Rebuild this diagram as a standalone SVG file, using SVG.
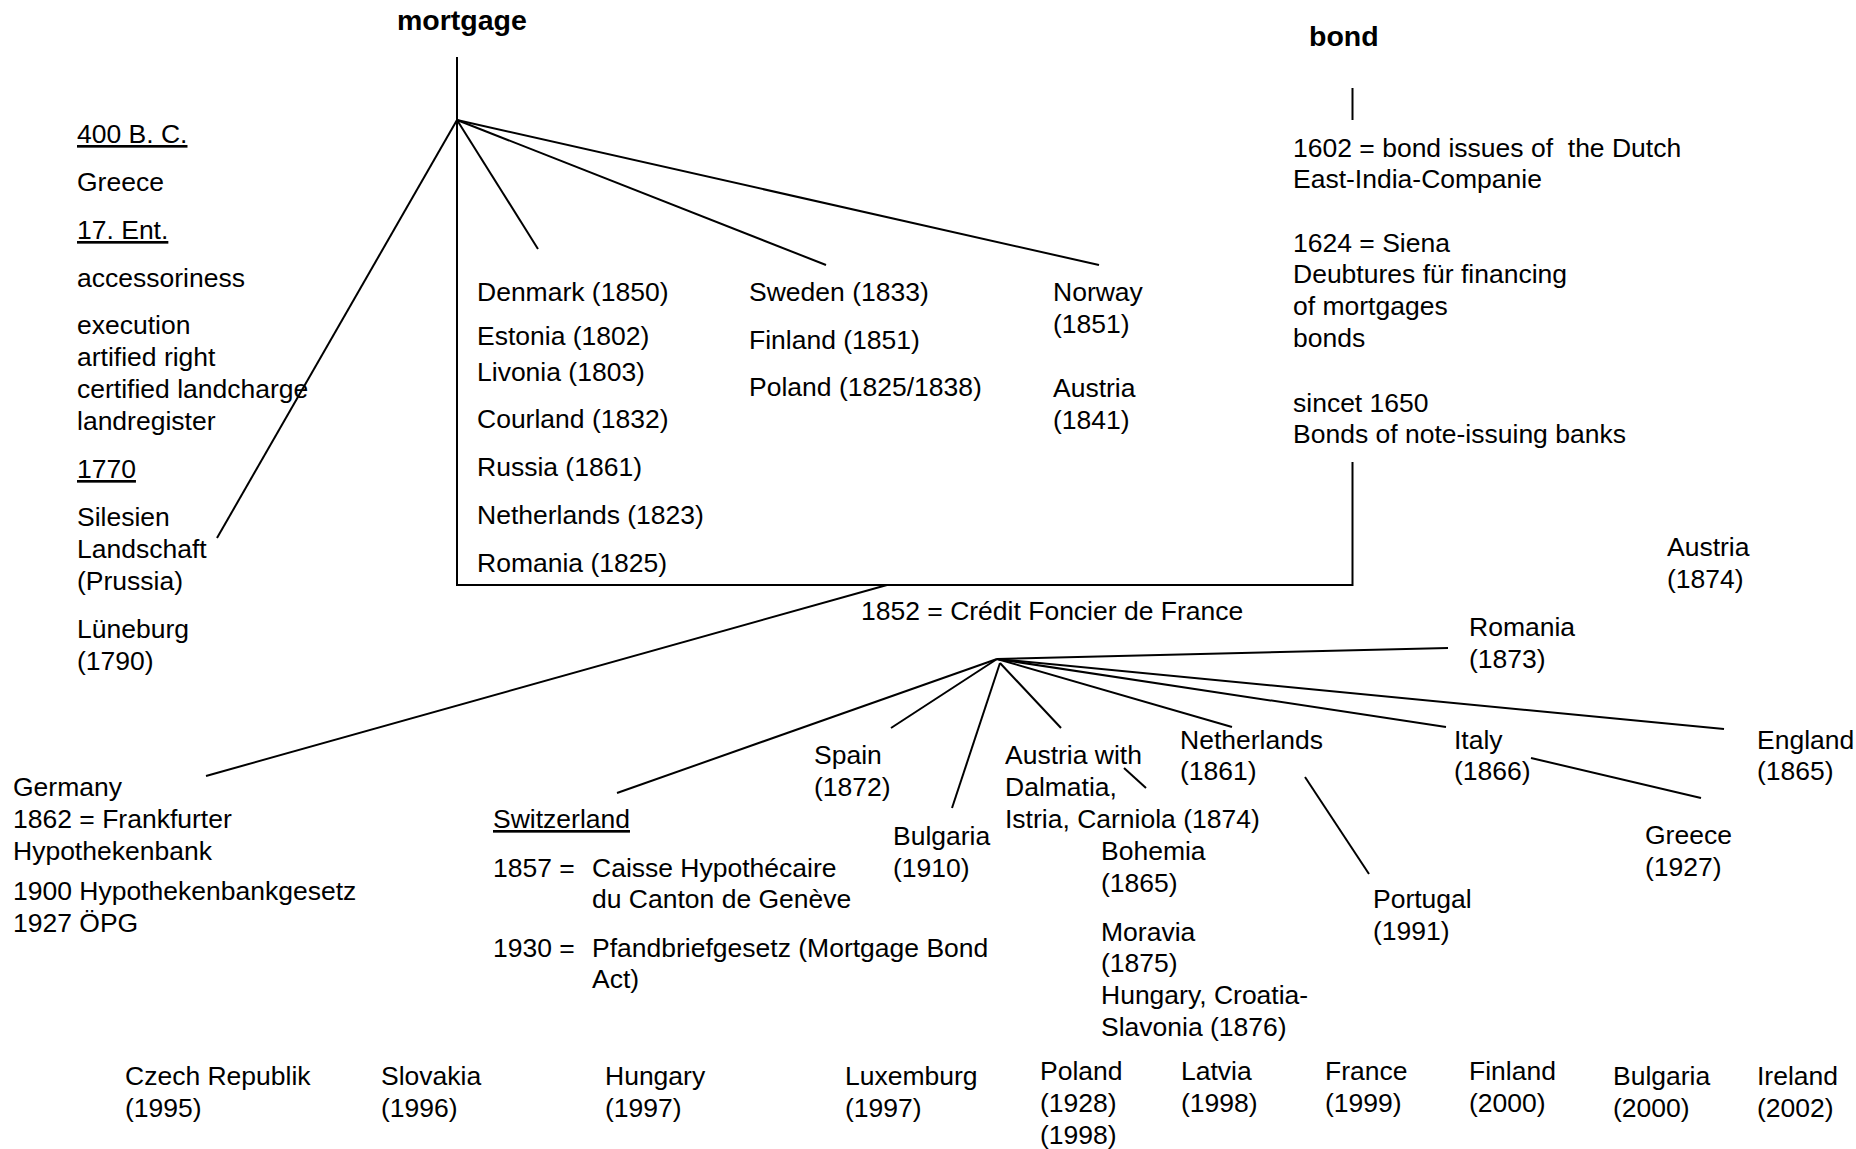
<svg xmlns="http://www.w3.org/2000/svg" width="1856" height="1149" viewBox="0 0 1856 1149">
<style>
text{font-family:"Liberation Sans",Arial,sans-serif;font-size:26.5px;fill:#000}
.t{font-weight:bold;font-size:28.5px}
.u{text-decoration:underline}
.c line,.c path{stroke:#000;stroke-width:2;fill:none}
</style>
<rect width="1856" height="1149" fill="#fff"/>
<g class="c" id="connectors">
<path d="M457,57 V585 H1352.5 V462"/>
<line x1="1352.5" y1="88" x2="1352.5" y2="120"/>
<line x1="457" y1="120" x2="217" y2="538"/>
<line x1="457" y1="120" x2="538" y2="249"/>
<line x1="457" y1="120" x2="826" y2="265"/>
<line x1="457" y1="120" x2="1099" y2="265"/>
<line x1="887" y1="585" x2="206" y2="776"/>
<line x1="997" y1="659" x2="617" y2="793"/>
<line x1="997" y1="659" x2="891" y2="728"/>
<line x1="1000" y1="663" x2="952" y2="808"/>
<line x1="1000" y1="663" x2="1061" y2="728"/>
<line x1="997" y1="659" x2="1232" y2="727"/>
<line x1="997" y1="659" x2="1448" y2="648"/>
<line x1="997" y1="659" x2="1446" y2="727"/>
<line x1="997" y1="659" x2="1724" y2="729"/>
<line x1="1124" y1="768" x2="1146" y2="788"/>
<line x1="1305" y1="777" x2="1369" y2="874"/>
<line x1="1531" y1="758" x2="1701" y2="798"/>
</g>
<g id="mortgage"><text class="t" x="397" y="30">mortgage</text></g>
<g id="bond"><text class="t" x="1309" y="46">bond</text></g>
<g id="history">
<text class="u" x="77" y="143">400 B. C.</text>
<text x="77" y="191">Greece</text>
<text class="u" x="77" y="239">17. Ent.</text>
<text x="77" y="287">accessoriness</text>
<text x="77" y="334">execution</text>
<text x="77" y="366">artified right</text>
<text x="77" y="398">certified landcharge</text>
<text x="77" y="430">landregister</text>
<text class="u" x="77" y="478">1770</text>
<text x="77" y="526">Silesien</text>
<text x="77" y="558">Landschaft</text>
<text x="77" y="590">(Prussia)</text>
<text x="77" y="638">Lüneburg</text>
<text x="77" y="670">(1790)</text>
</g>
<g id="baltic">
<text x="477" y="301">Denmark (1850)</text>
<text x="477" y="345">Estonia (1802)</text>
<text x="477" y="381">Livonia (1803)</text>
<text x="477" y="428">Courland (1832)</text>
<text x="477" y="476">Russia (1861)</text>
<text x="477" y="524">Netherlands (1823)</text>
<text x="477" y="572">Romania (1825)</text>
</g>
<g id="sweden">
<text x="749" y="301">Sweden (1833)</text>
<text x="749" y="349">Finland (1851)</text>
<text x="749" y="396">Poland (1825/1838)</text>
</g>
<g id="norway">
<text x="1053" y="301">Norway</text>
<text x="1053" y="333">(1851)</text>
<text x="1053" y="397">Austria</text>
<text x="1053" y="429">(1841)</text>
</g>
<g id="bond-history">
<text x="1293" y="157" xml:space="preserve" style="white-space:pre">1602 = bond issues of  the Dutch</text>
<text x="1293" y="188">East-India-Companie</text>
<text x="1293" y="252">1624 = Siena</text>
<text x="1293" y="283">Deubtures für financing</text>
<text x="1293" y="315">of mortgages</text>
<text x="1293" y="347">bonds</text>
<text x="1293" y="412">sincet 1650</text>
<text x="1293" y="443">Bonds of note-issuing banks</text>
</g>
<g id="credit-foncier"><text x="861" y="620">1852 = Crédit Foncier de France</text></g>
<g id="austria-1874"><text x="1667" y="556">Austria</text><text x="1667" y="588">(1874)</text></g>
<g id="romania-1873"><text x="1469" y="636">Romania</text><text x="1469" y="668">(1873)</text></g>
<g id="germany">
<text x="13" y="796">Germany</text>
<text x="13" y="828">1862 = Frankfurter</text>
<text x="13" y="860">Hypothekenbank</text>
<text x="13" y="900">1900 Hypothekenbankgesetz</text>
<text x="13" y="932">1927 ÖPG</text>
</g>
<g id="switzerland">
<text class="u" x="493" y="828">Switzerland</text>
<text x="493" y="877">1857 =</text>
<text x="592" y="877">Caisse Hypothécaire</text>
<text x="592" y="908">du Canton de Genève</text>
<text x="493" y="957">1930 =</text>
<text x="592" y="957">Pfandbriefgesetz (Mortgage Bond</text>
<text x="592" y="988">Act)</text>
</g>
<g id="spain"><text x="814" y="764">Spain</text><text x="814" y="796">(1872)</text></g>
<g id="bulgaria-1910"><text x="893" y="845">Bulgaria</text><text x="893" y="877">(1910)</text></g>
<g id="austria-with">
<text x="1005" y="764">Austria with</text>
<text x="1005" y="796">Dalmatia,</text>
<text x="1005" y="828">Istria, Carniola (1874)</text>
<text x="1101" y="860">Bohemia</text>
<text x="1101" y="892">(1865)</text>
<text x="1101" y="941">Moravia</text>
<text x="1101" y="972">(1875)</text>
<text x="1101" y="1004">Hungary, Croatia-</text>
<text x="1101" y="1036">Slavonia (1876)</text>
</g>
<g id="netherlands-1861"><text x="1180" y="749">Netherlands</text><text x="1180" y="780">(1861)</text></g>
<g id="portugal"><text x="1373" y="908">Portugal</text><text x="1373" y="940">(1991)</text></g>
<g id="italy"><text x="1454" y="749">Italy</text><text x="1454" y="780">(1866)</text></g>
<g id="greece"><text x="1645" y="844">Greece</text><text x="1645" y="876">(1927)</text></g>
<g id="england"><text x="1757" y="749">England</text><text x="1757" y="780">(1865)</text></g>
<g id="czech"><text x="125" y="1085">Czech Republik</text><text x="125" y="1117">(1995)</text></g>
<g id="slovakia"><text x="381" y="1085">Slovakia</text><text x="381" y="1117">(1996)</text></g>
<g id="hungary"><text x="605" y="1085">Hungary</text><text x="605" y="1117">(1997)</text></g>
<g id="luxemburg"><text x="845" y="1085">Luxemburg</text><text x="845" y="1117">(1997)</text></g>
<g id="poland"><text x="1040" y="1080">Poland</text><text x="1040" y="1112">(1928)</text><text x="1040" y="1144">(1998)</text></g>
<g id="latvia"><text x="1181" y="1080">Latvia</text><text x="1181" y="1112">(1998)</text></g>
<g id="france"><text x="1325" y="1080">France</text><text x="1325" y="1112">(1999)</text></g>
<g id="finland"><text x="1469" y="1080">Finland</text><text x="1469" y="1112">(2000)</text></g>
<g id="bulgaria-2000"><text x="1613" y="1085">Bulgaria</text><text x="1613" y="1117">(2000)</text></g>
<g id="ireland"><text x="1757" y="1085">Ireland</text><text x="1757" y="1117">(2002)</text></g>
</svg>
